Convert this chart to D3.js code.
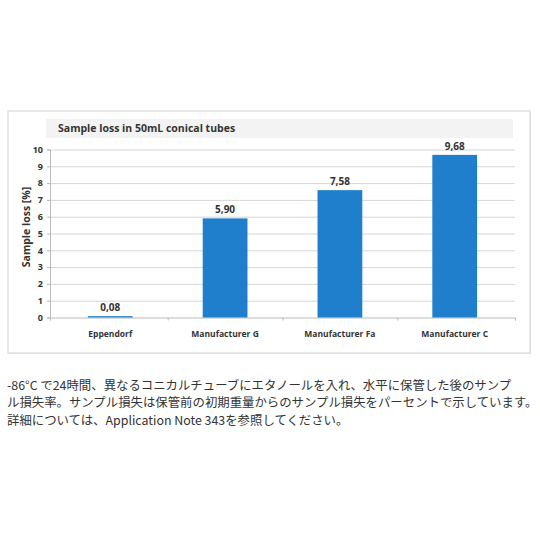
<!DOCTYPE html>
<html>
<head>
<meta charset="utf-8">
<script src="https://cdn.jsdelivr.net/npm/d3@7"></script>
<style>
  html, body { margin: 0; padding: 0; background: #fff; }
  svg { display: block; }
  .chart text { font-family: "Open Sans", "DejaVu Sans", sans-serif; font-weight: bold; fill: #333; }
  .caption { font-family: "Noto Sans CJK JP", sans-serif; font-size: 12.4px; fill: #333; }
</style>
</head>
<body>
<div id="chart"></div>
<script>
// data
var categories = ['Eppendorf', 'Manufacturer G', 'Manufacturer Fa', 'Manufacturer C'];
var values = [0.08, 5.90, 7.58, 9.68];
var yTicks = [0, 1, 2, 3, 4, 5, 6, 7, 8, 9, 10];
var title = 'Sample loss in 50mL conical tubes';
var yTitle = 'Sample loss [%]';
var captionLines = [
	'-86°C で24時間、異なるコニカルチューブにエタノールを入れ、水平に保管した後のサンプ',
	'ル損失率。サンプル損失は保管前の初期重量からのサンプル損失をパーセントで示しています。',
	'詳細については、Application Note 343を参照してください。'
];

var width = 540;
var height = 540;
var margin = { top: 149.5, right: 25, bottom: 222.5, left: 50 };

var svg = d3.select('#chart').append('svg').attr('width', width).attr('height', height);
svg.append('rect').attr('width', width).attr('height', height).attr('fill', '#fff');

var chart = svg.append('g').attr('class', 'chart');

// outer frame
chart.append('rect')
	.attr('x', 9).attr('y', 112).attr('width', 522).attr('height', 242)
	.attr('fill', '#eee');
chart.append('rect')
	.attr('x', 8).attr('y', 111).attr('width', 522).attr('height', 242)
	.attr('fill', '#fff').attr('stroke', '#d2d2d2').attr('stroke-width', 1);

// title band
chart.append('rect')
	.attr('x', 46).attr('y', 119).attr('width', 467).attr('height', 19)
	.attr('fill', '#f3f3f3');
chart.append('text')
	.attr('x', 58).attr('y', 132)
	.style('font-size', '10.5px')
	.text(title);

var x = d3.scaleBand()
	.domain(categories)
	.range([margin.left, width - margin.right])
	.paddingInner(0.61)
	.paddingOuter(0.33);

var y = d3.scaleLinear()
	.domain([0, 10])
	.range([height - margin.bottom, margin.top]);

// gridlines
chart.append('g')
	.attr('transform', `translate(${margin.left},0)`)
	.call(d3.axisLeft(y).tickValues(yTicks.slice(1)).tickSize(-(width - margin.left - margin.right)).tickFormat(''))
	.call((g) => g.select('.domain').remove())
	.call((g) => g.selectAll('line').attr('stroke', '#d6d6d6'));

// y axis
chart.append('g')
	.attr('transform', `translate(${margin.left},0)`)
	.call(d3.axisLeft(y).tickValues(yTicks).tickSize(3).tickPadding(4))
	.call((g) => g.select('.domain').attr('stroke', '#bbb'))
	.call((g) => g.selectAll('line').attr('stroke', '#bbb'))
	.call((g) => g.selectAll('text').style('font-size', '9px').attr('fill', '#333'));

// x baseline + category ticks between bands
var step = x.step();
var bounds = categories.slice(1).map((d) => x(d) - (step - x.bandwidth()) / 2)
	.concat([margin.left, width - margin.right]);
var xLin = d3.scaleLinear().range([margin.left, width - margin.right]);
chart.append('g')
	.attr('transform', `translate(0,${y(0)})`)
	.call(d3.axisBottom(xLin)
		.tickValues(bounds.map((b) => xLin.invert(b)))
		.tickSize(3).tickFormat(''))
	.call((g) => g.select('.domain').attr('stroke', '#bbb'))
	.call((g) => g.selectAll('line').attr('stroke', '#bbb'));

chart.append('g')
	.selectAll('text')
	.data(categories)
	.join('text')
	.attr('x', (d) => x(d) + x.bandwidth() / 2)
	.attr('y', y(0) + 19)
	.attr('text-anchor', 'middle')
	.style('font-size', '8.5px')
	.text((d) => d);

// bars
chart.append('g')
	.selectAll('rect')
	.data(values)
	.join('rect')
	.attr('x', (d, i) => x(categories[i]))
	.attr('y', (d) => y(d))
	.attr('width', x.bandwidth())
	.attr('height', (d) => y(0) - y(d))
	.attr('fill', '#1f7fcc');

var fmt = d3.formatLocale({ decimal: ',', thousands: '.', grouping: [3], currency: ['', ''] }).format('.2f');
chart.append('g')
	.selectAll('text')
	.data(values)
	.join('text')
	.attr('x', (d, i) => x(categories[i]) + x.bandwidth() / 2)
	.attr('y', (d) => y(d) - 5)
	.attr('text-anchor', 'middle')
	.style('font-size', '10px')
	.text((d) => fmt(d));

// y title
chart.append('text')
	.attr('transform', 'translate(30,227) rotate(-90)')
	.attr('text-anchor', 'middle')
	.style('font-size', '10.5px')
	.text(yTitle);

// caption
svg.append('g')
	.selectAll('text')
	.data(captionLines)
	.join('text')
	.attr('class', 'caption')
	.attr('x', 7)
	.attr('y', (d, i) => 389.5 + i * 17.5)
	.text((d) => d);
</script>
</body>
</html>
